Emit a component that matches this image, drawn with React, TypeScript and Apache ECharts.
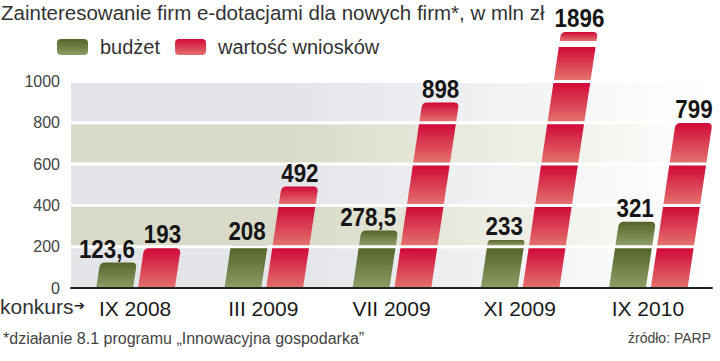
import React, { useEffect, useRef } from 'react';
import * as echarts from 'echarts';

const categories = ['IX 2008', 'III 2009', 'VII 2009', 'XI 2009', 'IX 2010'];
const budzet = [123.6, 208, 278.5, 233, 321];
const wartosc = [193, 492, 898, 1896, 799];
const seriesNames = ['budżet', 'wartość wniosków'];
const gridTicks = [200, 400, 600, 800, 1000];

const TITLE = 'Zainteresowanie firm e-dotacjami dla nowych firm*, w mln zł';
const NOTE = '*działanie 8.1 programu „Innowacyjna gospodarka”';
const SOURCE = 'źródło: PARP';
const AXIS_PREFIX = 'konkurs';

const Y_MAX = 1000;
const Y_STEP = 200;
const BREAK_CAP = 1240; // visual height of a broken (out-of-scale) bar
const SKEW = 0.15;
const LINE_W = 3;

const SANS = '"Liberation Sans", Arial, sans-serif';

const GREEN = ['#55652a', '#8e9c66'];
const RED = ['#d10a38', '#e3716d'];

const fmt = (v: number) => String(v).replace('.', ',');

const vGrad = (c: string[]) =>
  new echarts.graphic.LinearGradient(0, 0, 0, 1, [
    { offset: 0, color: c[0] },
    { offset: 1, color: c[1] },
  ]);

const hFade = (c: string) =>
  new echarts.graphic.LinearGradient(0, 0, 1, 0, [
    { offset: 0, color: c },
    { offset: 0.35, color: c },
    { offset: 1, color: '#ffffff' },
  ]);

function geom(api: any, leftFrac: number, widthFrac: number) {
  const idx = api.value(0);
  const val = api.value(1);
  const shown = Math.min(val, BREAK_CAP);
  const base = api.coord([idx, 0]);
  const top = api.coord([idx, shown]);
  const band = api.size([1, 0])[0];
  const x0 = base[0] + leftFrac * band;
  const x1 = x0 + widthFrac * band;
  const yb = base[1];
  const yt = top[1];
  return { idx, val, shown, x0, x1, yb, yt, h: yb - yt };
}

// one slanted segment of a bar, from y `lo` (lower, larger y) up to y `hi`
function segment(g: any, lo: number, hi: number, rounded: boolean) {
  const xl = (y: number) => g.x0 + SKEW * (g.yb - y);
  const xr = (y: number) => g.x1 + SKEW * (g.yb - y);
  if (!rounded) {
    return `M${xl(lo)},${lo} L${xl(hi)},${hi} L${xr(hi)},${hi} L${xr(lo)},${lo} Z`;
  }
  const r = Math.min(5, (lo - hi) / 2);
  return `M${xl(lo)},${lo} L${xl(hi + r)},${hi + r} Q${xl(hi)},${hi} ${xl(hi) + r},${hi} L${xr(hi) - r},${hi} Q${xr(hi)},${hi} ${xr(hi + r)},${hi + r} L${xr(lo)},${lo} Z`;
}

// bar split into pieces; gaps at grid lines (and at the break) show the white lines behind
const makeBars = (leftFrac: number, widthFrac: number, colors: string[]) => (params: any, api: any) => {
  const g = geom(api, leftFrac, widthFrac);
  const gaps: number[][] = [];
  gridTicks.forEach((t) => {
    if (t >= g.shown) return;
    const y = api.coord([g.idx, t])[1];
    gaps.push([y - LINE_W / 2, y + LINE_W / 2]);
  });
  if (g.val > BREAK_CAP) gaps.push([g.yt + 9, g.yt + 15]);
  gaps.sort((a, b) => b[0] - a[0]);
  const fill = vGrad(colors);
  const children: any[] = [];
  let cur = g.yb;
  gaps.forEach(([y1, y2]) => {
    children.push({ type: 'path', shape: { pathData: segment(g, cur, y2, false) }, style: { fill } });
    cur = y1;
  });
  children.push({ type: 'path', shape: { pathData: segment(g, cur, g.yt, true) }, style: { fill } });
  return { type: 'group', children };
};

const makeLabels = (leftFrac: number, widthFrac: number, labelAlign: string) => (params: any, api: any) => {
  const g = geom(api, leftFrac, widthFrac);
  const lx = labelAlign === 'right' ? g.x1 + SKEW * g.h - 2 : (g.x0 + g.x1) / 2 + SKEW * g.h;
  return {
    type: 'text',
    x: lx,
    y: g.yt - 1,
    scaleX: 0.86,
    style: {
      text: fmt(g.val),
      x: 0,
      y: 0,
      align: labelAlign,
      verticalAlign: 'bottom',
      fontSize: 26,
      fontWeight: 'bold',
      fontFamily: SANS,
      fill: '#151515',
    },
  };
};

const renderGridLine = (params: any, api: any) => {
  const v = api.value(1);
  const y = api.coord([0, v])[1];
  const cs = params.coordSys;
  return {
    type: 'rect',
    shape: { x: cs.x, y: y - LINE_W / 2, width: cs.width, height: LINE_W },
    style: { fill: '#ffffff' },
  };
};

export default function App() {
  const ref = useRef<HTMLDivElement>(null);
  useEffect(() => {
    if (!ref.current) return;
    const chart = echarts.init(ref.current, null, { renderer: 'svg' });
    const GL = -0.303;
    const RL = 0.023;
    const BW = 0.287;
    const option: any = {
      animation: false,
      backgroundColor: '#ffffff',
      title: {
        text: TITLE,
        left: 1,
        top: 2,
        padding: 0,
        textStyle: { fontFamily: SANS, fontSize: 20.5, fontWeight: 'normal', color: '#333333' },
      },
      legend: {
        left: 57,
        top: 37,
        padding: 0,
        itemWidth: 31,
        itemHeight: 16,
        itemGap: 15,
        icon: 'roundRect',
        textStyle: { fontFamily: SANS, fontSize: 20, color: '#333333', padding: [0, 0, 0, 7] },
        data: [
          { name: seriesNames[0], itemStyle: { color: vGrad(GREEN) } },
          { name: seriesNames[1], itemStyle: { color: vGrad(RED) } },
        ],
      },
      grid: { left: 71, right: 8, top: 81.5, bottom: 73, containLabel: false },
      xAxis: {
        type: 'category',
        data: categories,
        z: 12,
        axisLine: { show: true, lineStyle: { color: '#222222', width: 2 } },
        axisTick: { show: false },
        axisLabel: { fontFamily: SANS, fontSize: 21, color: '#1a1a1a', margin: 9, lineHeight: 22 },
      },
      yAxis: {
        type: 'value',
        min: 0,
        max: Y_MAX,
        interval: Y_STEP,
        axisLine: { show: false },
        axisTick: { show: false },
        splitLine: { show: false },
        splitArea: {
          show: true,
          areaStyle: {
            color: [hFade('#e3e5e9'), hFade('#d9dbc8')],
          },
        },
        axisLabel: {
          fontFamily: SANS,
          fontSize: 16,
          color: '#444444',
          margin: 11,
          padding: [5, 0, 0, 0],
          formatter: (v: number) => String(v),
        },
      },
      series: [
        {
          name: 'gridlines',
          type: 'custom',
          z: 2,
          silent: true,
          data: gridTicks.map((v) => [0, v]),
          encode: { x: 0, y: 1 },
          renderItem: renderGridLine,
        },
        {
          name: seriesNames[0],
          type: 'custom',
          z: 3,
          itemStyle: { color: GREEN[0] },
          data: budzet.map((v, i) => [i, v]),
          encode: { x: 0, y: 1 },
          renderItem: makeBars(GL, BW, GREEN),
        },
        {
          name: seriesNames[1],
          type: 'custom',
          z: 3,
          itemStyle: { color: RED[0] },
          data: wartosc.map((v, i) => [i, v]),
          encode: { x: 0, y: 1 },
          renderItem: makeBars(RL, BW, RED),
        },
        {
          name: seriesNames[0],
          type: 'custom',
          z: 5,
          silent: true,
          itemStyle: { color: GREEN[0] },
          data: budzet.map((v, i) => [i, v]),
          encode: { x: 0, y: 1 },
          renderItem: makeLabels(GL, BW, 'right'),
        },
        {
          name: seriesNames[1],
          type: 'custom',
          z: 5,
          silent: true,
          itemStyle: { color: RED[0] },
          data: wartosc.map((v, i) => [i, v]),
          encode: { x: 0, y: 1 },
          renderItem: makeLabels(RL, BW, 'center'),
        },
      ],
      graphic: [
        {
          type: 'text',
          left: 0,
          top: 296,
          style: { text: AXIS_PREFIX, fontFamily: SANS, fontSize: 21, fill: '#333333' },
        },
        {
          type: 'text',
          left: 74,
          top: 299,
          style: { text: '➔', fontFamily: '"DejaVu Sans", sans-serif', fontSize: 13, fill: '#222222' },
        },
        {
          type: 'text',
          left: 3,
          top: 330,
          style: { text: NOTE, fontFamily: SANS, fontSize: 16, fill: '#444444' },
        },
        {
          type: 'text',
          right: 9,
          top: 331,
          style: { text: SOURCE, fontFamily: SANS, fontSize: 14, fill: '#444444' },
        },
      ],
    };
    chart.setOption(option);
    return () => chart.dispose();
  }, []);
  return <div ref={ref} style={{ width: 720, height: 361, position: 'absolute', left: 0, top: 0 }} />;
}
